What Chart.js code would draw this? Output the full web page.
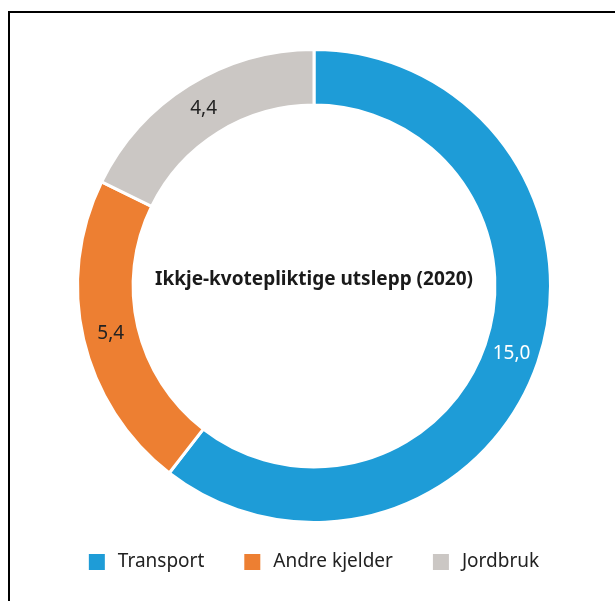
<!DOCTYPE html>
<html>
<head>
<meta charset="utf-8">
<script src="https://cdn.jsdelivr.net/npm/chart.js@4"></script>
<style>
  html, body { margin: 0; padding: 0; background: #fff; }
  #wrap { position: relative; width: 615px; height: 601px; }
  #frame { position: absolute; left: 8px; top: 11px; right: 0; bottom: 0; border-left: 2px solid #000; border-top: 2px solid #000; }
  canvas { position: absolute; left: 0; top: 0; }
</style>
</head>
<body>
<div id="wrap">
  <div id="frame"></div>
  <canvas id="c" width="615" height="601"></canvas>
</div>
<script>
const categories = ["Transport", "Andre kjelder", "Jordbruk"];
const values = [15.0, 5.4, 4.4];
const valueLabels = ["15,0", "5,4", "4,4"];
const colors = ["#1e9cd7", "#ed7f32", "#cbc7c4"];
const labelColors = ["#ffffff", "#222222", "#222222"];
const centerTitle = "Ikkje-kvotepliktige utslepp (2020)";

const FONT = "'Noto Sans', 'Open Sans', sans-serif";

const labelPlugin = {
  id: 'arcLabels',
  afterDatasetsDraw(chart) {
    const ctx = chart.ctx;
    const meta = chart.getDatasetMeta(0);
    ctx.save();
    ctx.textAlign = 'center';
    ctx.textBaseline = 'middle';
    ctx.font = "19px " + FONT;
    meta.data.forEach((arc, i) => {
      const p = arc.tooltipPosition();
      ctx.fillStyle = labelColors[i];
      ctx.fillText(valueLabels[i], p.x, p.y);
    });
    const a0 = meta.data[0];
    ctx.font = "bold 19px " + FONT;
    ctx.fillStyle = "#1a1a1a";
    ctx.fillText(centerTitle, a0.x, a0.y - 6);
    ctx.restore();
  }
};

const legendPlugin = {
  id: 'customLegend',
  afterDraw(chart) {
    const ctx = chart.ctx;
    const box = 16, gapText = 13, gapItem = 40;
    ctx.save();
    ctx.font = "19px " + FONT;
    ctx.textBaseline = 'middle';
    ctx.textAlign = 'left';
    const widths = categories.map(c => box + gapText + ctx.measureText(c).width);
    const total = widths.reduce((a, b) => a + b, 0) + gapItem * (categories.length - 1);
    const cx = chart.getDatasetMeta(0).data[0].x;
    let x = cx - total / 2;
    const y = 562;
    categories.forEach((c, i) => {
      ctx.fillStyle = colors[i];
      ctx.fillRect(x, y - box / 2, box, box);
      ctx.fillStyle = "#222222";
      ctx.fillText(c, x + box + gapText, y);
      x += widths[i] + gapItem;
    });
    ctx.restore();
  }
};

new Chart(document.getElementById('c'), {
  type: 'doughnut',
  data: {
    labels: categories,
    datasets: [{
      data: values,
      backgroundColor: colors,
      borderColor: '#ffffff',
      borderWidth: 3,
      hoverOffset: 0
    }]
  },
  options: {
    responsive: false,
    animation: false,
    cutout: '76.5%',
    layout: { padding: { left: 76, right: 63, top: 48, bottom: 77 } },
    plugins: {
      tooltip: { enabled: false },
      legend: { display: false }
    }
  },
  plugins: [labelPlugin, legendPlugin]
});
</script>
</body>
</html>
